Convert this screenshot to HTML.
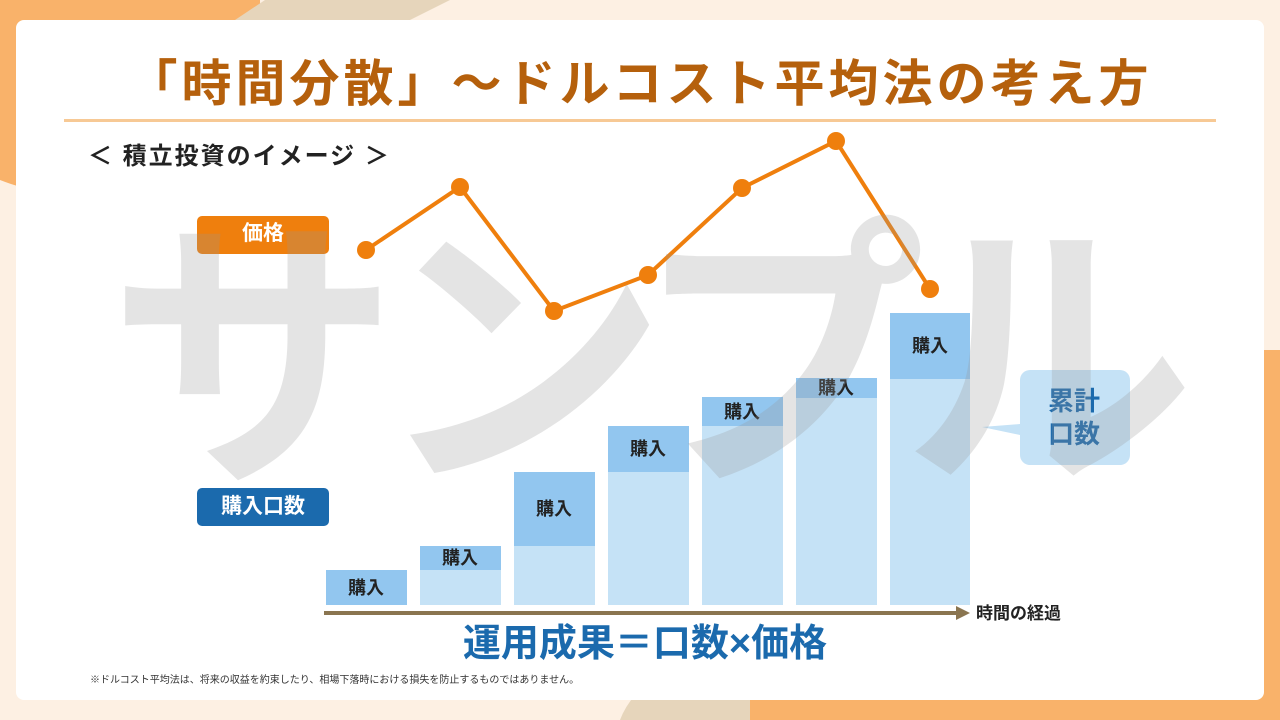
<!DOCTYPE html>
<html style="overflow:hidden;width:1280px;height:720px"><head><meta charset="utf-8"><style>
html,body{margin:0;width:1280px;height:720px;overflow:hidden}
body{background:#fdf0e3;position:relative;font-family:"Liberation Sans","Noto Sans CJK JP",sans-serif}
.a{position:absolute;line-height:1.3}
</style></head><body>
<svg class="a" style="left:0;top:0;display:block" width="1280" height="720">
<path d="M0 0H260A190 190 0 0 1 0 180z" fill="#f9b26a"/>
<polygon points="265,0 450,0 410,20 235,20" fill="#e6d5bb"/>
<path d="M620 720A150 100 0 0 1 880 680V720z" fill="#e6d5bb"/>
<path d="M750 720V470a120 120 0 0 1 120-120H1280V720z" fill="#f9b26a"/>
</svg>
<div class="a" style="left:16px;top:20px;width:1248px;height:680px;background:#fff;border-radius:8px"></div>
<div class="a" style="left:0;top:52px;width:1280px;text-align:center;font-size:50px;font-weight:bold;color:#b5600c;letter-spacing:4px">「時間分散」～ドルコスト平均法の考え方</div>
<div class="a" style="left:64px;top:119px;width:1152px;height:3px;background:#f7c995"></div>
<div class="a" style="left:88px;top:141px;font-size:24px;font-weight:bold;color:#222;letter-spacing:2px">＜ 積立投資のイメージ ＞</div>
<div class="a" style="left:197px;top:216px;width:132px;height:38px;background:#ef7f0d;border-radius:5px;color:#fff;font-size:21px;font-weight:bold;text-align:center;line-height:36px">価格</div>
<div class="a" style="left:197px;top:488px;width:132px;height:38px;background:#1b6aad;border-radius:5px;color:#fff;font-size:21px;font-weight:bold;text-align:center;line-height:38px">購入口数</div>
<svg class="a" style="left:0;top:0;display:block" width="1280" height="720">
<g fill="#c5e2f6"><rect x="420" y="570" width="81" height="35"/><rect x="514" y="546" width="81" height="59"/><rect x="608" y="472" width="81" height="133"/><rect x="702" y="426" width="81" height="179"/><rect x="796" y="398" width="81" height="207"/><rect x="890" y="379" width="80" height="226"/></g>
<g fill="#92c6ef"><rect x="326" y="570" width="81" height="35"/><rect x="420" y="546" width="81" height="24"/><rect x="514" y="472" width="81" height="74"/><rect x="608" y="426" width="81" height="46"/><rect x="702" y="397" width="81" height="29"/><rect x="796" y="378" width="81" height="20"/><rect x="890" y="313" width="80" height="66"/></g>
<g font-size="18" font-weight="bold" fill="#222" text-anchor="middle" font-family="Liberation Sans, Noto Sans CJK JP, sans-serif">
<text x="366" y="594">購入</text><text x="460" y="564">購入</text><text x="554" y="515">購入</text><text x="648" y="455">購入</text><text x="742" y="418">購入</text><text x="836" y="394">購入</text><text x="930" y="352">購入</text></g>
<path d="M1030 370h90a10 10 0 0 1 10 10v75a10 10 0 0 1-10 10h-90a10 10 0 0 1-10-10v-20l-38-8 38-3v-44a10 10 0 0 1 10-10z" fill="#c5e2f6"/>
<g font-size="26" font-weight="bold" fill="#1b6aad" font-family="Liberation Sans, Noto Sans CJK JP, sans-serif"><text x="1048" y="410">累計</text><text x="1048" y="443">口数</text></g>
<line x1="324" y1="613" x2="958" y2="613" stroke="#8a7550" stroke-width="4"/><path d="M956 606l14 7-14 7z" fill="#8a7550"/>
<text x="976" y="619" font-size="17" font-weight="bold" fill="#222" font-family="Liberation Sans, Noto Sans CJK JP, sans-serif">時間の経過</text>
<polyline points="366,250 460,187 554,311 648,275 742,188 836,141 930,289" fill="none" stroke="#ef7f0d" stroke-width="4"/>
<g fill="#ef7f0d"><circle cx="366" cy="250" r="9"/><circle cx="460" cy="187" r="9"/><circle cx="554" cy="311" r="9"/><circle cx="648" cy="275" r="9"/><circle cx="742" cy="188" r="9"/><circle cx="836" cy="141" r="9"/><circle cx="930" cy="289" r="9"/></g>
<text x="640" y="462" text-anchor="middle" font-size="290" font-weight="bold" fill="rgba(150,150,150,0.26)" font-family="Liberation Sans, Noto Sans CJK JP, sans-serif" letter-spacing="-22">サンプル</text>
</svg>
<div class="a" style="left:10px;top:620px;width:1270px;text-align:center;font-size:38px;font-weight:bold;color:#1b6aad">運用成果＝口数×価格</div>
<div class="a" style="left:90px;top:674px;font-size:10px;color:#333">※ドルコスト平均法は、将来の収益を約束したり、相場下落時における損失を防止するものではありません。</div>
</body></html>
